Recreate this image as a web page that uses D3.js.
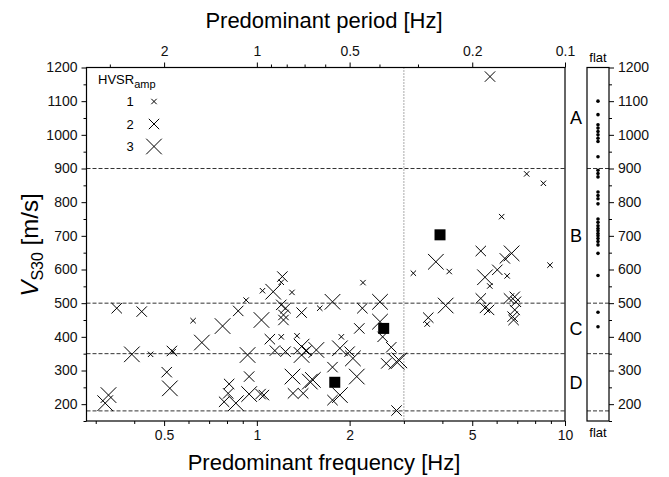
<!DOCTYPE html>
<html>
<head>
<meta charset="utf-8">
<script src="https://cdn.jsdelivr.net/npm/d3@7"></script>
<style>
  body { margin: 0; background: #fff; }
  svg { font-family: "Liberation Sans", Arial, sans-serif; }
</style>
</head>
<body>
<svg id="chart" width="669" height="477"></svg>
<script>
// site data: predominant frequency [Hz], Vs30 [m/s], HVSR amplitude class
const freq = [0.351, 0.423, 0.393, 0.452, 0.53, 0.535, 0.51, 0.522, 0.322, 0.33,
  0.621, 0.663, 0.774, 0.87, 0.923, 0.933, 0.813, 0.807, 0.783, 0.855,
  0.944, 0.944, 1.028, 1.054, 1.035, 1.043, 1.102, 1.144, 1.13, 1.21,
  1.2, 1.3, 1.2, 1.239, 1.22, 1.239, 1.2, 1.22, 1.397, 1.35,
  1.397, 1.397, 1.45, 1.56, 1.305, 1.31, 1.414, 1.486, 1.52, 1.6,
  1.76, 1.76, 1.76, 1.86, 1.88, 1.86, 2.0, 2.05, 2.11, 2.21,
  2.2, 2.15, 2.51, 2.51, 2.56, 2.73, 2.63, 2.84, 2.9, 2.84,
  3.22, 3.81, 4.21, 3.6, 3.57, 4.1, 5.33, 6.71, 6.38, 6.03,
  5.5, 6.49, 5.7, 8.94, 5.33, 5.67, 5.5, 6.58, 6.87, 6.93,
  6.87, 6.76, 6.81, 5.71, 7.51, 8.51, 6.23];
const vs30 = [485, 475, 348, 348, 358, 356, 295, 247, 203, 227,
  448, 383, 432, 477, 509, 346, 260, 232, 207, 203,
  282, 230, 230, 227, 450, 537, 393, 359, 534, 579,
  562, 532, 400, 485, 450, 356, 495, 465, 472, 403,
  371, 346, 359, 361, 282, 232, 232, 267, 272, 485,
  504, 310, 212, 227, 400, 366, 356, 336, 282, 561,
  485, 425, 504, 445, 400, 369, 321, 326, 330, 181,
  589, 623, 594, 457, 438, 493, 655, 648, 633, 599,
  577, 581, 551, 613, 514, 480, 486, 514, 519, 504,
  480, 460, 450, 1173, 884, 856, 757];
const amp = [2, 2, 3, 1, 2, 1, 2, 3, 3, 3,
  1, 3, 3, 2, 1, 3, 2, 2, 2, 3,
  2, 3, 2, 2, 3, 1, 2, 2, 3, 2,
  1, 1, 1, 2, 2, 2, 2, 2, 2, 1,
  3, 3, 2, 3, 3, 2, 2, 3, 3, 1,
  3, 2, 2, 3, 1, 3, 2, 3, 3, 1,
  2, 2, 3, 3, 2, 2, 2, 3, 3, 2,
  1, 3, 1, 2, 1, 3, 2, 3, 2, 2,
  3, 1, 1, 1, 2, 2, 2, 2, 2, 2,
  2, 2, 2, 2, 1, 1, 1];

// reference sites (filled squares)
const refFreq = [1.79, 2.58, 3.93];
const refVs30 = [265, 425, 703];

// sites with flat HVSR curve
const flatVs30 = [1100, 1060, 1030, 1020, 1010, 1000, 990, 980, 935,
  895, 885, 875, 830, 820, 810, 795, 750, 740, 730, 722, 715, 707, 700,
  692, 683, 673, 648, 582, 473, 430];

// site class limits and labels
const classLimits = [900, 500, 350, 180];
const classNames = ["A", "B", "C", "D"];
const classMid = [1050, 700, 425, 265];

const freqTicks = [0.5, 1, 2, 5, 10];
const freqMinor = [0.3, 0.4, 0.6, 0.7, 0.8, 0.9, 3, 4, 6, 7, 8, 9];
const periodTicks = [2, 1, 0.5, 0.2, 0.1];
const periodMinor = [3, 0.9, 0.8, 0.7, 0.6, 0.4, 0.3];
const vsTicks = d3.range(200, 1201, 100);
const vsMinor = d3.range(150, 1200, 100);

const svg = d3.select("#chart");
const mLeft = 86.5, mRight = 565, mTop = 67.5, mBottom = 421;
const pl = 587, pr = 609; // flat panel

const x = d3.scaleLog().domain([0.28, 10]).range([mLeft, mRight]);
const y = d3.scaleLinear().domain([150, 1200]).range([mBottom, mTop]);
const half = { 1: 2.7, 2: 5.2, 3: 7.8 };
const fs = 14; // tick label size

function cross(h) {
  return `M${-h},${-h}L${h},${h}M${-h},${h}L${h},${-h}`;
}

// dashed class limits
classLimits.forEach(v => {
  svg.append("line").attr("x1", mLeft).attr("x2", mRight)
    .attr("y1", y(v)).attr("y2", y(v))
    .attr("stroke", "#333").attr("stroke-dasharray", "4,2").attr("stroke-width", 1);
  svg.append("line").attr("x1", pl).attr("x2", pr)
    .attr("y1", y(v)).attr("y2", y(v))
    .attr("stroke", "#333").attr("stroke-dasharray", "4,2").attr("stroke-width", 1);
});

// dotted line at 3 Hz
svg.append("line").attr("x1", x(3)).attr("x2", x(3))
  .attr("y1", mTop).attr("y2", mBottom)
  .attr("stroke", "#555").attr("stroke-dasharray", "1,2").attr("stroke-width", 1);

// frame
svg.append("rect").attr("x", mLeft).attr("y", mTop)
  .attr("width", mRight - mLeft).attr("height", mBottom - mTop)
  .attr("fill", "none").attr("stroke", "#000").attr("stroke-width", 1.2);
svg.append("rect").attr("x", pl).attr("y", mTop)
  .attr("width", pr - pl).attr("height", mBottom - mTop)
  .attr("fill", "none").attr("stroke", "#000").attr("stroke-width", 1.2);

// bottom axis
const gx = svg.append("g").attr("transform", `translate(0,${mBottom})`)
  .call(d3.axisBottom(x).tickValues(freqTicks).tickSize(5).tickPadding(4)
    .tickFormat(d3.format("")));
gx.select(".domain").remove();
gx.selectAll("text").attr("font-size", fs).attr("fill", "#111");
svg.append("g").attr("transform", `translate(0,${mBottom})`)
  .call(d3.axisBottom(x).tickValues(freqMinor).tickSize(3).tickFormat(""))
  .select(".domain").remove();

// top axis (period)
const gt = svg.append("g").attr("transform", `translate(0,${mTop})`)
  .call(d3.axisTop(x).tickValues(periodTicks.map(p => 1 / p)).tickSize(5).tickPadding(7)
    .tickFormat(d => d3.format("")(+(1 / d).toFixed(2))));
gt.select(".domain").remove();
gt.selectAll("text").attr("font-size", fs).attr("fill", "#111");
svg.append("g").attr("transform", `translate(0,${mTop})`)
  .call(d3.axisTop(x).tickValues(periodMinor.map(p => 1 / p)).tickSize(3).tickFormat(""))
  .select(".domain").remove();

// left axis
const gy = svg.append("g").attr("transform", `translate(${mLeft},0)`)
  .call(d3.axisLeft(y).tickValues(vsTicks).tickSize(5).tickPadding(4).tickFormat(d3.format("d")));
gy.select(".domain").remove();
gy.selectAll("text").attr("font-size", fs).attr("fill", "#111");
svg.append("g").attr("transform", `translate(${mLeft},0)`)
  .call(d3.axisLeft(y).tickValues(vsMinor).tickSize(3).tickFormat(""))
  .select(".domain").remove();

// right axis (panel)
const gr = svg.append("g").attr("transform", `translate(${pr},0)`)
  .call(d3.axisRight(y).tickValues(vsTicks).tickSize(5).tickPadding(4).tickFormat(d3.format("d")));
gr.select(".domain").remove();
gr.selectAll("text").attr("font-size", fs).attr("fill", "#111");
svg.append("g").attr("transform", `translate(${pr},0)`)
  .call(d3.axisRight(y).tickValues(vsMinor).tickSize(3).tickFormat(""))
  .select(".domain").remove();

// axis titles
svg.append("text").attr("x", 324).attr("y", 28).attr("text-anchor", "middle")
  .attr("font-size", 22).text("Predominant period [Hz]");
svg.append("text").attr("x", 324).attr("y", 470).attr("text-anchor", "middle")
  .attr("font-size", 22).text("Predominant frequency [Hz]");
const yt = svg.append("text").attr("transform", "translate(38,245) rotate(-90)")
  .attr("text-anchor", "middle").attr("font-size", 24);
yt.append("tspan").attr("font-style", "italic").text("V");
yt.append("tspan").attr("font-size", 16).attr("dy", 5).text("S30");
yt.append("tspan").attr("dy", -5).text(" [m/s]");

// class labels
classNames.forEach((c, i) => {
  svg.append("text").attr("x", 576).attr("y", y(classMid[i])).attr("dy", "0.36em")
    .attr("text-anchor", "middle").attr("font-size", 18).text(c);
});

// flat labels
svg.append("text").attr("x", (pl + pr) / 2).attr("y", 62).attr("text-anchor", "middle")
  .attr("font-size", 13).text("flat");
svg.append("text").attr("x", (pl + pr) / 2).attr("y", 437).attr("text-anchor", "middle")
  .attr("font-size", 13).text("flat");

// flat dots
svg.append("g").selectAll("circle").data(flatVs30).enter().append("circle")
  .attr("cx", (pl + pr) / 2).attr("cy", d => y(d)).attr("r", 1.8).attr("fill", "#000");

// crosses
const pts = d3.zip(freq, vs30, amp);
svg.append("g").selectAll("path").data(pts).enter().append("path")
  .attr("transform", d => `translate(${x(d[0])},${y(d[1])})`)
  .attr("d", d => cross(half[d[2]]))
  .attr("stroke", "#000").attr("stroke-width", 1).attr("fill", "none");

// reference squares
svg.append("g").selectAll("rect").data(d3.zip(refFreq, refVs30)).enter().append("rect")
  .attr("x", d => x(d[0]) - 5.5).attr("y", d => y(d[1]) - 5.5)
  .attr("width", 11).attr("height", 11).attr("fill", "#000");

// legend
const lg = svg.append("text").attr("x", 98).attr("y", 83.5).attr("font-size", 13);
lg.append("tspan").text("HVSR");
lg.append("tspan").attr("font-size", 11).attr("dy", 4).text("amp");
[1, 2, 3].forEach((a, i) => {
  const ly = [101.5, 124, 146.5][i];
  svg.append("text").attr("x", 130).attr("y", ly).attr("dy", "0.36em")
    .attr("text-anchor", "middle").attr("font-size", 13).text(a);
  svg.append("path").attr("transform", `translate(154,${ly})`)
    .attr("d", cross(half[a])).attr("stroke", "#000").attr("fill", "none");
});
</script>
</body>
</html>
